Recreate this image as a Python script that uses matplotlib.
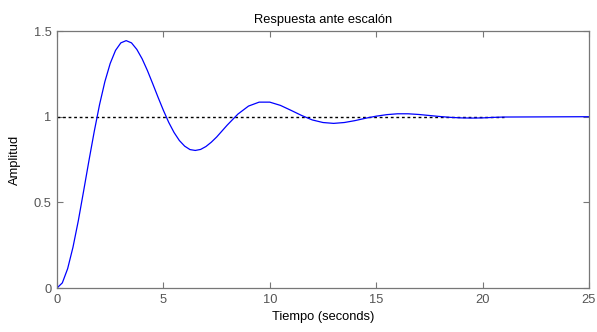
import numpy as np
import matplotlib.pyplot as plt

plt.rcParams['font.family'] = ['Liberation Sans', 'DejaVu Sans']

# step response samples
t = [0, 0.25, 0.5, 0.75, 1.0, 1.25, 1.5, 1.75, 2.0, 2.25, 2.5, 2.75, 3.0, 3.25,
     3.5, 3.75, 4.0, 4.25, 4.5, 4.75, 5.0, 5.25, 5.5, 5.75, 6.0, 6.25, 6.5, 6.75,
     7.0, 7.25, 7.5, 7.75, 8.0, 8.5, 9.0, 9.5, 10.0, 10.5, 11.0, 11.5, 12.0,
     12.5, 13.0, 13.5, 14.0, 14.5, 15.0, 15.5, 16.0, 16.5, 17.0, 17.5, 18.0,
     18.5, 19.0, 19.5, 20.0, 20.5, 21.0, 25.0]
y = [0, 0.030, 0.113, 0.238, 0.392, 0.566, 0.743, 0.914, 1.071, 1.205, 1.311,
     1.387, 1.431, 1.444, 1.431, 1.393, 1.338, 1.269, 1.192, 1.113, 1.037,
     0.967, 0.908, 0.861, 0.828, 0.808, 0.803, 0.809, 0.826, 0.851, 0.881,
     0.916, 0.951, 1.015, 1.062, 1.085, 1.085, 1.066, 1.037, 1.007, 0.981,
     0.966, 0.961, 0.966, 0.977, 0.991, 1.003, 1.012, 1.017, 1.017, 1.013,
     1.007, 1.001, 0.996, 0.993, 0.992, 0.993, 0.996, 0.998, 1.0]

final_t = [0, 21.0]
final_y = [1.0, 1.0]

xticks = [0, 5, 10, 15, 20, 25]
yticks = [0, 0.5, 1, 1.5]

fig = plt.figure(figsize=(5.97, 3.32), dpi=100)
ax = fig.add_axes([0.0955, 0.1325, 0.891, 0.774])

ax.plot(final_t, final_y, color='black', linestyle=(0, (2, 2)), linewidth=1)
ax.plot(t, y, color='#0000ff', linewidth=0.9)

ax.set_xlim(0, 25)
ax.set_ylim(0, 1.5)
ax.set_xticks(xticks)
ax.set_yticks(yticks)
ax.set_xticklabels([str(v) for v in xticks])
ax.set_yticklabels(['0', '0.5', '1', '1.5'])
ax.tick_params(direction='in', length=4, width=0.8, color='#777777',
               labelcolor='#555555', labelsize=9.3, top=True, right=True, pad=4)
for s in ax.spines.values():
    s.set_color('#777777')
    s.set_linewidth(0.9)

ax.set_title('Respuesta ante escalón', fontsize=9.3, pad=6)
ax.set_xlabel('Tiempo (seconds)', fontsize=9.3, labelpad=4)
ax.set_ylabel('Amplitud', fontsize=9.3, labelpad=9)

fig.savefig('out.png', dpi=100)
